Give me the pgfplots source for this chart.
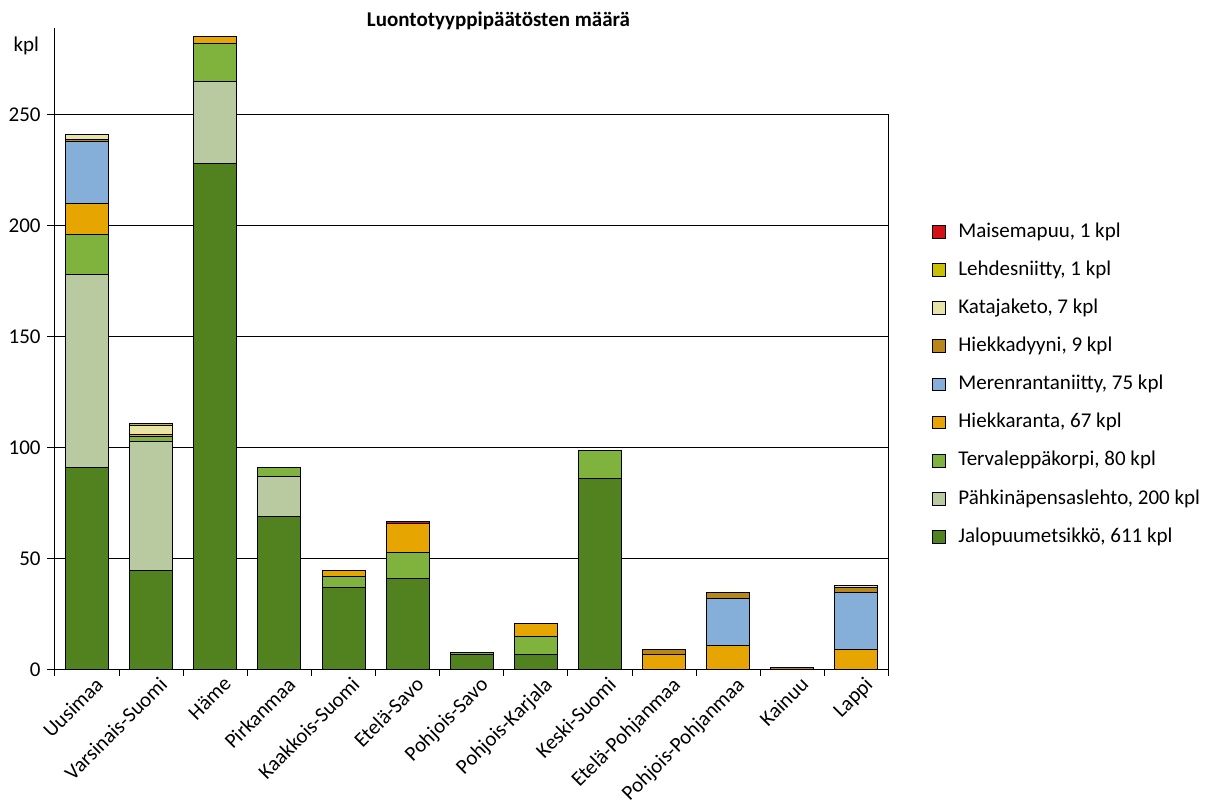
\documentclass[border=0pt]{standalone}
\usepackage{fontspec}
\setmainfont{Carlito}
\usepackage{pgfplots}
\usepackage{pgfplotstable}
\pgfplotsset{compat=1.18}

\definecolor{cJalo}{RGB}{82,130,32}
\definecolor{cPahk}{RGB}{185,201,160}
\definecolor{cTerva}{RGB}{128,178,62}
\definecolor{cHranta}{RGB}{230,165,0}
\definecolor{cMeren}{RGB}{133,174,216}
\definecolor{cHdyyni}{RGB}{184,134,27}
\definecolor{cKataja}{RGB}{232,228,168}
\definecolor{cLehdes}{RGB}{200,192,0}
\definecolor{cMaisema}{RGB}{214,16,24}

% Luontotyyppipäätökset maakunnittain (kpl)
\pgfplotstableread{
x  jalo pahk terva hranta meren hdyyni kataja lehdes maisema
0  91   87   18    14     28    1      2      0      0
1  45   58   2     1      0     0      4      1      0
2  228  37   17    3      0     0      0      0      0
3  69   18   4     0      0     0      0      0      0
4  37   0    5     3      0     0      0      0      0
5  41   0    12    13     0     0      0      0      1
6  7    0    1     0      0     0      0      0      0
7  7    0    8     6      0     0      0      0      0
8  86   0    13    0      0     0      0      0      0
9  0    0    0     7      0     2      0      0      0
10 0    0    0     11     21    3      0      0      0
11 0    0    0     0      0     1      0      0      0
12 0    0    0     9      26    2      1      0      0
}\luontotyypit

\begin{document}
\begin{tikzpicture}[font=\fontsize{10.5}{12.6}\selectfont]
\path[use as bounding box] (-27.5pt,-65.5pt) rectangle (578.5pt,335pt);
\begin{axis}[
  scale only axis,
  width=416.75pt, height=321pt,
  xmin=-0.5, xmax=12.5, ymin=0, ymax=289,
  clip=false,
  ybar stacked, bar width=21.5pt,
  axis x line*=bottom, axis y line*=left,
  axis line style={black, line width=0.5pt, -},
  xtick={0,...,12},
  xticklabels={Uusimaa,Varsinais-Suomi,Häme,Pirkanmaa,Kaakkois-Suomi,Etelä-Savo,Pohjois-Savo,Pohjois-Karjala,Keski-Suomi,Etelä-Pohjanmaa,Pohjois-Pohjanmaa,Kainuu,Lappi},
  every major x tick/.append style={draw=none},
  minor xtick={-0.5,0.5,...,12.5},
  ytick={0,50,...,250},
  tick align=outside, major tick length=4pt, minor tick length=3pt,
  tick style={black, line width=0.5pt},
  ymajorgrids, grid style={black, line width=0.5pt},
  xticklabel style={rotate=45, anchor=north east, inner sep=1pt, xshift=4.5pt, yshift=-0.5pt},
  yticklabel style={inner sep=3pt},
  /pgf/number format/assume math mode=true,
  every axis plot post/.append style={draw=black, line width=0.5pt,
    legend image code/.code={\draw[##1, line width=0.5pt] (0pt,-3.2pt) rectangle (6.5pt,3.2pt);}},
  reverse legend,
  legend style={draw=none, fill=none, at={(rel axis cs:1.0522,0.6978)}, anchor=north west,
    inner sep=0pt, row sep=9.35pt, column sep=6pt, legend cell align=left,
    nodes={inner sep=0pt, text height=7.5pt, text depth=2.2pt}},
]
\addplot[fill=cJalo]    table[x=x, y=jalo]    {\luontotyypit};
\addlegendentry{Jalopuumetsikkö, 611 kpl}
\addplot[fill=cPahk]    table[x=x, y=pahk]    {\luontotyypit};
\addlegendentry{Pähkinäpensaslehto, 200 kpl}
\addplot[fill=cTerva]   table[x=x, y=terva]   {\luontotyypit};
\addlegendentry{Tervaleppäkorpi, 80 kpl}
\addplot[fill=cHranta]  table[x=x, y=hranta]  {\luontotyypit};
\addlegendentry{Hiekkaranta, 67 kpl}
\addplot[fill=cMeren]   table[x=x, y=meren]   {\luontotyypit};
\addlegendentry{Merenrantaniitty, 75 kpl}
\addplot[fill=cHdyyni]  table[x=x, y=hdyyni]  {\luontotyypit};
\addlegendentry{Hiekkadyyni, 9 kpl}
\addplot[fill=cKataja]  table[x=x, y=kataja]  {\luontotyypit};
\addlegendentry{Katajaketo, 7 kpl}
\addplot[fill=cLehdes]  table[x=x, y=lehdes]  {\luontotyypit};
\addlegendentry{Lehdesniitty, 1 kpl}
\addplot[fill=cMaisema] table[x=x, y=maisema] {\luontotyypit};
\addlegendentry{Maisemapuu, 1 kpl}
% plot area frame on the right, up to the top gridline
\draw[black, line width=0.5pt] (axis cs:12.5,0) -- (axis cs:12.5,250);
\node[anchor=base east, xshift=-4.5pt] at (axis cs:-0.5,278.5) {kpl};
\node[anchor=base, font=\fontsize{10.5}{12.6}\selectfont\bfseries, yshift=0.65pt] at (rel axis cs:0.532,1) {Luontotyyppipäätösten määrä};
\end{axis}
\end{tikzpicture}
\end{document}
